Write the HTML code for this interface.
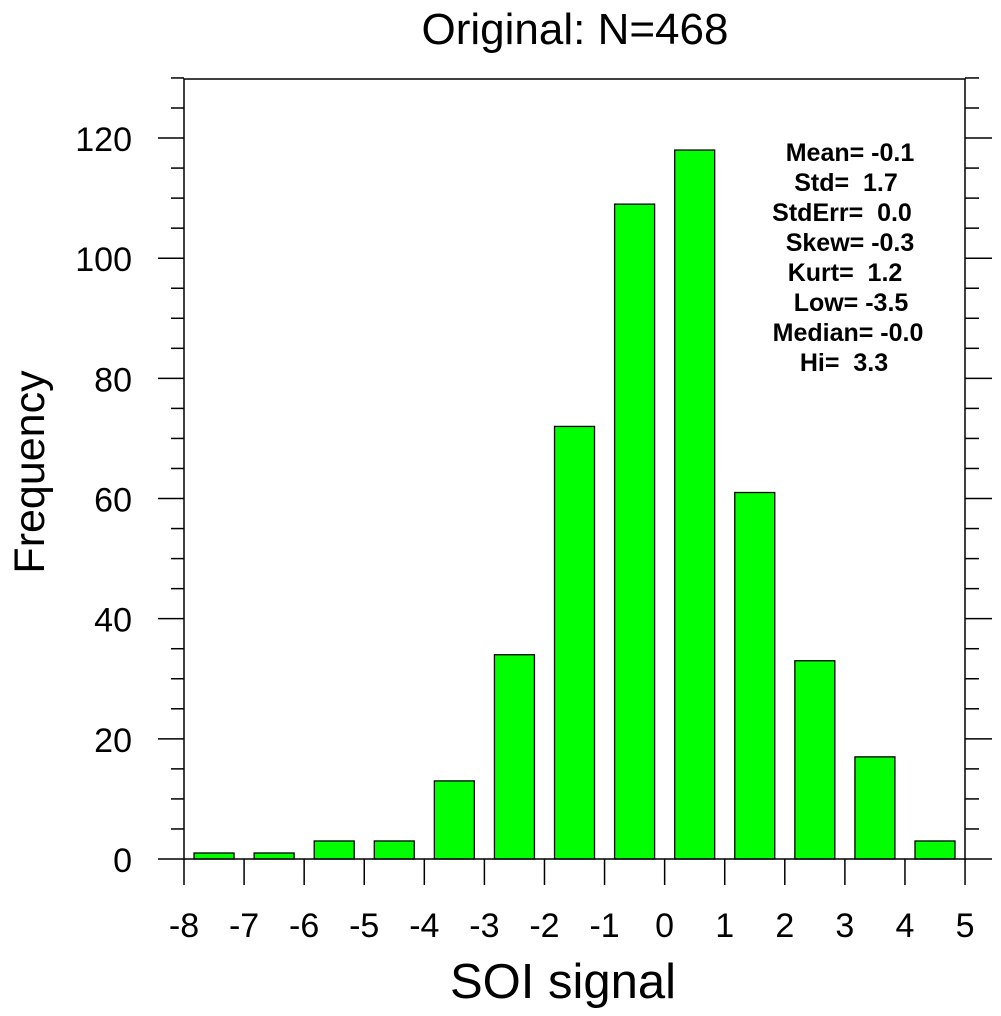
<!DOCTYPE html>
<html><head><meta charset="utf-8"><style>body{margin:0;background:#fff}svg{display:block}</style></head><body>
<svg width="1001" height="1016" xmlns="http://www.w3.org/2000/svg" font-family="Liberation Sans, sans-serif">
<rect width="1001" height="1016" fill="#fff"/>
<g id="bars" fill="#00ff00" stroke="#000" stroke-width="1.3"></g>
<rect x="184" y="79" width="781" height="780" fill="none" stroke="#000" stroke-width="1.5"/>
<g id="ticks" stroke="#000" stroke-width="1.5"></g>
<g id="lbl" font-size="34" text-anchor="middle" fill="#000"></g>
<text x="575" y="44" font-size="44" text-anchor="middle">Original: N=468</text>
<text x="563" y="998" font-size="49" text-anchor="middle">SOI signal</text>
<text transform="translate(44,472) rotate(-90)" font-size="43" text-anchor="middle">Frequency</text>
<g font-size="25" font-weight="bold" text-anchor="middle">
<text x="850" y="161">Mean= -0.1</text>
<text x="846" y="191">Std=&#160; 1.7</text>
<text x="842" y="221">StdErr=&#160; 0.0</text>
<text x="850" y="251">Skew= -0.3</text>
<text x="845" y="281">Kurt=&#160; 1.2</text>
<text x="851" y="311">Low= -3.5</text>
<text x="848" y="341">Median= -0.0</text>
<text x="844" y="371">Hi=&#160; 3.3</text>
</g>
<script>
var ns="http://www.w3.org/2000/svg";
function X(v){return 184+(v+8)*60.08}
function Y(v){return 859-v*6.008}
var vals=[1,1,3,3,13,34,72,109,118,61,33,17,3];
var b=document.getElementById("bars");
vals.forEach(function(v,i){var c=-7.5+i;var r=document.createElementNS(ns,"rect");
r.setAttribute("x",X(c)-20);r.setAttribute("width",40);r.setAttribute("y",Y(v));r.setAttribute("height",v*6.008);b.appendChild(r);});
var t=document.getElementById("ticks"),l=document.getElementById("lbl");
function line(x1,y1,x2,y2){var e=document.createElementNS(ns,"line");e.setAttribute("x1",x1);e.setAttribute("y1",y1);e.setAttribute("x2",x2);e.setAttribute("y2",y2);t.appendChild(e);}
function txt(x,y,s,a){var e=document.createElementNS(ns,"text");e.setAttribute("x",x);e.setAttribute("y",y);if(a)e.setAttribute("text-anchor",a);e.textContent=s;l.appendChild(e);}
for(var v=0;v<=130;v+=5){var y=Y(v);var maj=v%20==0;
line(184,y,maj?158:171,y);line(965,y,maj?992:979,y);
if(maj)txt(132,y+13,String(v),"end");}
for(var i=-8;i<=5;i++){var x=X(i);line(x,859,x,885);txt(x,937,String(i));}
</script>
</svg>
</body></html>
